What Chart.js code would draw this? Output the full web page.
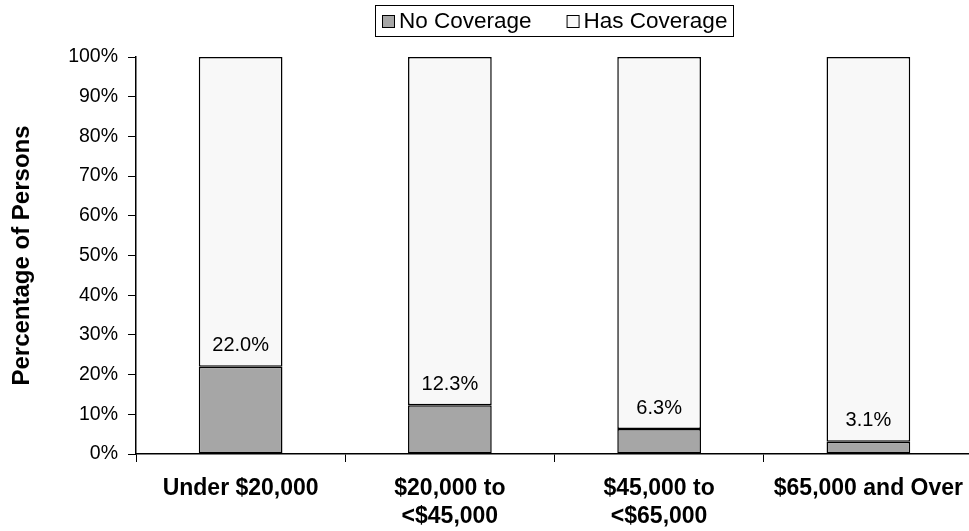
<!DOCTYPE html>
<html>
<head>
<meta charset="utf-8">
<script src="https://cdn.jsdelivr.net/npm/chart.js@4/dist/chart.umd.min.js"></script>
<style>
  html, body { margin: 0; padding: 0; background: #fff; overflow: hidden; }
  #wrap { width: 975px; height: 531px; }
</style>
</head>
<body>
<div id="wrap"><canvas id="c"></canvas></div>
<script>
const categories = ['Under $20,000', ['$20,000 to', '<$45,000'], ['$45,000 to', '<$65,000'], '$65,000 and Over']
const seriesNames = ['No Coverage', 'Has Coverage']
const noCoverage = [22.0, 12.3, 6.3, 3.1]
const hasCoverage = [78.0, 87.7, 93.7, 96.9]
const yTicks = [0, 10, 20, 30, 40, 50, 60, 70, 80, 90, 100]
const seriesColors = ['#a6a6a6', '#f8f8f8']

const FONT = '"Liberation Sans", Arial, sans-serif'
Chart.defaults.font.family = FONT
Chart.defaults.color = '#000'

// value labels above the gray bars
const barLabels = {
  id: 'barLabels',
  afterDatasetsDraw(chart) {
    const ctx = chart.ctx
    const meta = chart.getDatasetMeta(0)
    ctx.save()
    ctx.font = '20px ' + FONT
    ctx.fillStyle = '#000'
    ctx.textAlign = 'center'
    ctx.textBaseline = 'middle'
    meta.data.forEach((bar, i) => {
      ctx.fillText(noCoverage[i].toFixed(1) + '%', bar.x, bar.y - 21)
    })
    ctx.restore()
  }
}

// legend in a black frame, like the spreadsheet one
const framedLegend = {
  id: 'framedLegend',
  afterDraw(chart) {
    const ctx = chart.ctx
    const area = chart.chartArea
    ctx.save()
    ctx.font = '22.5px ' + FONT
    ctx.textBaseline = 'middle'
    const sq = 13, gap = 4, itemGap = 35
    const w = seriesNames.map(n => ctx.measureText(n).width)
    const total = sq + gap + w[0] + itemGap + sq + gap + w[1]
    let x = Math.round((area.left + area.right) / 2 - total / 2)
    const cy = 21
    ctx.strokeStyle = '#000'
    ctx.lineWidth = 1
    ctx.strokeRect(x - 6.5, 5.5, Math.round(total) + 13, 31)
    seriesNames.forEach((name, i) => {
      ctx.fillStyle = seriesColors[i]
      ctx.fillRect(x, cy - 6, sq, sq)
      ctx.strokeRect(x + 0.5, cy - 5.5, sq - 1, sq - 1)
      ctx.fillStyle = '#000'
      ctx.fillText(name, x + sq + gap, cy + 1)
      x += sq + gap + w[i] + itemGap
    })
    ctx.restore()
  }
}

new Chart(document.getElementById('c'), {
  type: 'bar',
  data: {
    labels: categories,
    datasets: [{
      label: seriesNames[0],
      data: noCoverage,
      backgroundColor: seriesColors[0],
      borderColor: '#000',
      borderWidth: 1.5,
      borderSkipped: false,
    }, {
      label: seriesNames[1],
      data: hasCoverage,
      backgroundColor: seriesColors[1],
      borderColor: '#000',
      borderWidth: 1.5,
      borderSkipped: false,
    }]
  },
  options: {
    responsive: true,
    maintainAspectRatio: false,
    animation: false,
    layout: { padding: { left: 0, right: 0, top: 57, bottom: 0 } },
    datasets: { bar: { categoryPercentage: 1, barPercentage: 0.4 } },
    plugins: {
      tooltip: { enabled: false },
      legend: { display: false }
    },
    scales: {
      x: {
        stacked: true,
        afterFit(axis) { axis.height = 77 },
        grid: { drawOnChartArea: false, tickLength: 8, color: '#000', lineWidth: 1 },
        border: { color: '#000', width: 1.5 },
        ticks: { font: { size: 23, weight: 'bold', lineHeight: 1.25 }, maxRotation: 0, padding: 12 }
      },
      y: {
        stacked: true,
        min: 0,
        max: 100,
        afterFit(axis) { axis.width = 136 },
        afterBuildTicks(axis) { axis.ticks = yTicks.map(v => ({ value: v })) },
        grid: { drawOnChartArea: false, tickLength: 8, color: '#000', lineWidth: 1 },
        border: { color: '#000', width: 1.5 },
        ticks: { font: { size: 19.5 }, padding: 10, callback: v => v + '%' },
        title: { display: true, text: 'Percentage of Persons', font: { size: 24, weight: 'bold' }, padding: { top: 8, bottom: 0 } }
      }
    }
  },
  plugins: [barLabels, framedLegend]
})
</script>
</body>
</html>
